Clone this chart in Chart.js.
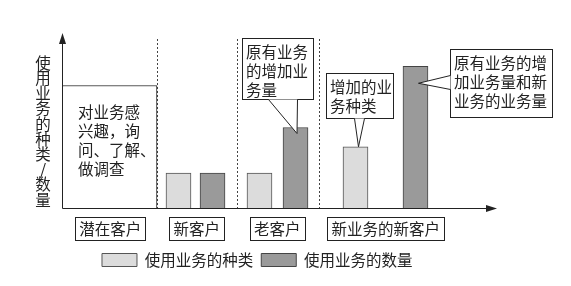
<!DOCTYPE html>
<html>
<head>
<meta charset="utf-8">
<script src="https://cdn.jsdelivr.net/npm/chart.js@4.4.0/dist/chart.umd.min.js"></script>
<style>
    html, body { margin: 0; padding: 0; background: #fff; }
    #caja { width: 571px; height: 286px; }
</style>
</head>
<body>
<div id="caja"><canvas id="grafica"></canvas></div>
<script>
//? Datos
const categorias = ['潜在客户', '新客户', '老客户', '新业务的新客户']
const posCategorias = [11.1, 31, 49.5, 74.4]
const separadores = [21.84, 40.23, 59.08]

const nombreTipos = '使用业务的种类'
const posTipos = [26.78, 45.4, 67.47]
const tipos = [20, 20, 35]

const nombreCantidad = '使用业务的数量'
const posCantidad = [34.6, 53.68, 81.26]
const cantidad = [20, 46, 81]

const posPotencial = [10.92]
const potencial = [70]

const tituloY = '使用业务的种类/数量'
const textoPotencial = ['对业务感', '兴趣，询', '问、了解、', '做调查']

const fuente = '15.5px "Noto Sans CJK SC", "Noto Sans", sans-serif'

//? Globos de texto
const globos = [
    { lineas: ['原有业务', '的增加业', '务量'], caja: [242, 38, 71, 61], base: [[268, 99], [297, 99]], serie: 1, punto: 1, dx: 1.5, dy: 6 },
    { lineas: ['增加的业', '务种类'], caja: [326, 73, 67, 45], base: [[354, 118], [364, 118]], serie: 0, punto: 2, dx: 3, dy: 0 },
    { lineas: ['原有业务的增', '加业务量和新', '业务的业务量'], caja: [450, 49, 102, 68], base: [[450, 75], [450, 89]], serie: 1, punto: 2, dx: 3, dy: 17 }
]

const dibujo = {
    id: 'dibujo',
    beforeDatasetsDraw(chart) {
        const { ctx, chartArea: area, scales: { x } } = chart
        ctx.save()
        ctx.strokeStyle = '#444'
        ctx.lineWidth = 1
        ctx.setLineDash([2, 2])
        separadores.forEach(s => {
            const px = Math.round(x.getPixelForValue(s)) + 0.5
            ctx.beginPath()
            ctx.moveTo(px, area.top + 6)
            ctx.lineTo(px, area.bottom)
            ctx.stroke()
        })
        ctx.restore()
    },
    afterDatasetsDraw(chart) {
        const { ctx, chartArea: area, scales: { x } } = chart
        ctx.save()
        ctx.strokeStyle = '#222'
        ctx.fillStyle = '#222'
        ctx.lineWidth = 1

        // ejes con flecha
        const ox = Math.round(area.left) + 0.5
        const oy = Math.round(area.bottom) + 0.5
        ctx.beginPath()
        ctx.moveTo(ox, oy)
        ctx.lineTo(ox, area.top + 4)
        ctx.moveTo(ox, oy)
        ctx.lineTo(area.right - 4, oy)
        ctx.stroke()
        ctx.beginPath()
        ctx.moveTo(ox, area.top)
        ctx.lineTo(ox - 3.5, area.top + 11)
        ctx.lineTo(ox + 3.5, area.top + 11)
        ctx.closePath()
        ctx.fill()
        ctx.beginPath()
        ctx.moveTo(area.right, oy)
        ctx.lineTo(area.right - 11, oy - 3.5)
        ctx.lineTo(area.right - 11, oy + 3.5)
        ctx.closePath()
        ctx.fill()

        ctx.font = fuente
        ctx.textBaseline = 'middle'

        // titulo vertical
        ctx.textAlign = 'center'
        ;[...tituloY].forEach((c, i) => {
            ctx.fillText(c, area.left - 19, area.top + 30 + i * 15.2)
        })

        // texto del rectangulo de clientes potenciales
        const rect = chart.getDatasetMeta(2).data[0]
        ctx.textAlign = 'left'
        textoPotencial.forEach((t, i) => {
            ctx.fillText(t, rect.x - rect.width / 2 + 16, rect.y + 27 + i * 18.8)
        })

        // cajas de categorias
        ctx.textAlign = 'center'
        categorias.forEach((c, i) => {
            const cx = x.getPixelForValue(posCategorias[i])
            const w = Math.round(ctx.measureText(c).width + 8)
            const left = Math.round(cx - w / 2) + 0.5
            const top = Math.round(area.bottom) + 9.5
            ctx.fillStyle = '#fff'
            ctx.fillRect(left, top, w, 23)
            ctx.strokeRect(left, top, w, 23)
            ctx.fillStyle = '#222'
            ctx.fillText(c, cx, top + 12)
        })

        // globos
        globos.forEach(g => {
            const barra = chart.getDatasetMeta(g.serie).data[g.punto]
            const tx = barra.x + g.dx
            const ty = barra.y + g.dy
            const [bx, by, bw, bh] = g.caja
            ctx.fillStyle = '#fff'
            ctx.fillRect(bx + 0.5, by + 0.5, bw, bh)
            ctx.strokeRect(bx + 0.5, by + 0.5, bw, bh)
            const [a, b] = g.base
            ctx.beginPath()
            ctx.moveTo(a[0] + 0.5, a[1] + 0.5)
            ctx.lineTo(tx, ty)
            ctx.lineTo(b[0] + 0.5, b[1] + 0.5)
            ctx.closePath()
            ctx.fill()
            ctx.beginPath()
            ctx.moveTo(a[0] + 0.5, a[1] + 0.5)
            ctx.lineTo(tx, ty)
            ctx.lineTo(b[0] + 0.5, b[1] + 0.5)
            ctx.stroke()
            ctx.fillStyle = '#222'
            ctx.textAlign = 'left'
            g.lineas.forEach((l, i) => {
                ctx.fillText(l, bx + 4, by + 14 + i * 19)
            })
        })
        ctx.restore()
    }
}

const puntos = (xs, ys) => xs.map((v, i) => ({ x: v, y: ys[i] }))

const data = {
    datasets: [
        {
            label: nombreTipos,
            data: puntos(posTipos, tipos),
            backgroundColor: '#dcdcdc',
            borderColor: '#555',
            borderWidth: 1,
            barThickness: 25
        },
        {
            label: nombreCantidad,
            data: puntos(posCantidad, cantidad),
            backgroundColor: '#9a9a9a',
            borderColor: '#444',
            borderWidth: 1,
            barThickness: 25
        },
        {
            label: '潜在客户',
            data: puntos(posPotencial, potencial),
            backgroundColor: '#fff',
            borderColor: '#222',
            borderWidth: 1,
            barThickness: 95
        }
    ]
}

const options = {
    responsive: true,
    maintainAspectRatio: false,
    animation: false,
    grouped: false,
    layout: { padding: { left: 17.5, right: 74, top: 33, bottom: 8.25 } },
    scales: {
        x: {
            type: 'linear',
            min: 0,
            max: 100,
            offset: false,
            grid: { display: false },
            border: { display: false },
            ticks: { display: false },
            afterFit: (s) => { s.height = 36.25 }
        },
        y: {
            min: 0,
            max: 100,
            grid: { display: false },
            border: { display: false },
            ticks: { display: false },
            afterFit: (s) => { s.width = 44.5 }
        }
    },
    plugins: {
        tooltip: { enabled: false },
        legend: {
            position: 'bottom',
            labels: {
                boxWidth: 35,
                boxHeight: 13,
                padding: 8,
                color: '#222',
                font: { family: '"Noto Sans CJK SC", "Noto Sans", sans-serif', size: 15.5 },
                filter: (item) => item.datasetIndex < 2
            }
        }
    }
}

const grafica = new Chart(document.getElementById('grafica'), {
    type: 'bar',
    data: data,
    options: options,
    plugins: [dibujo]
})
</script>
</body>
</html>
